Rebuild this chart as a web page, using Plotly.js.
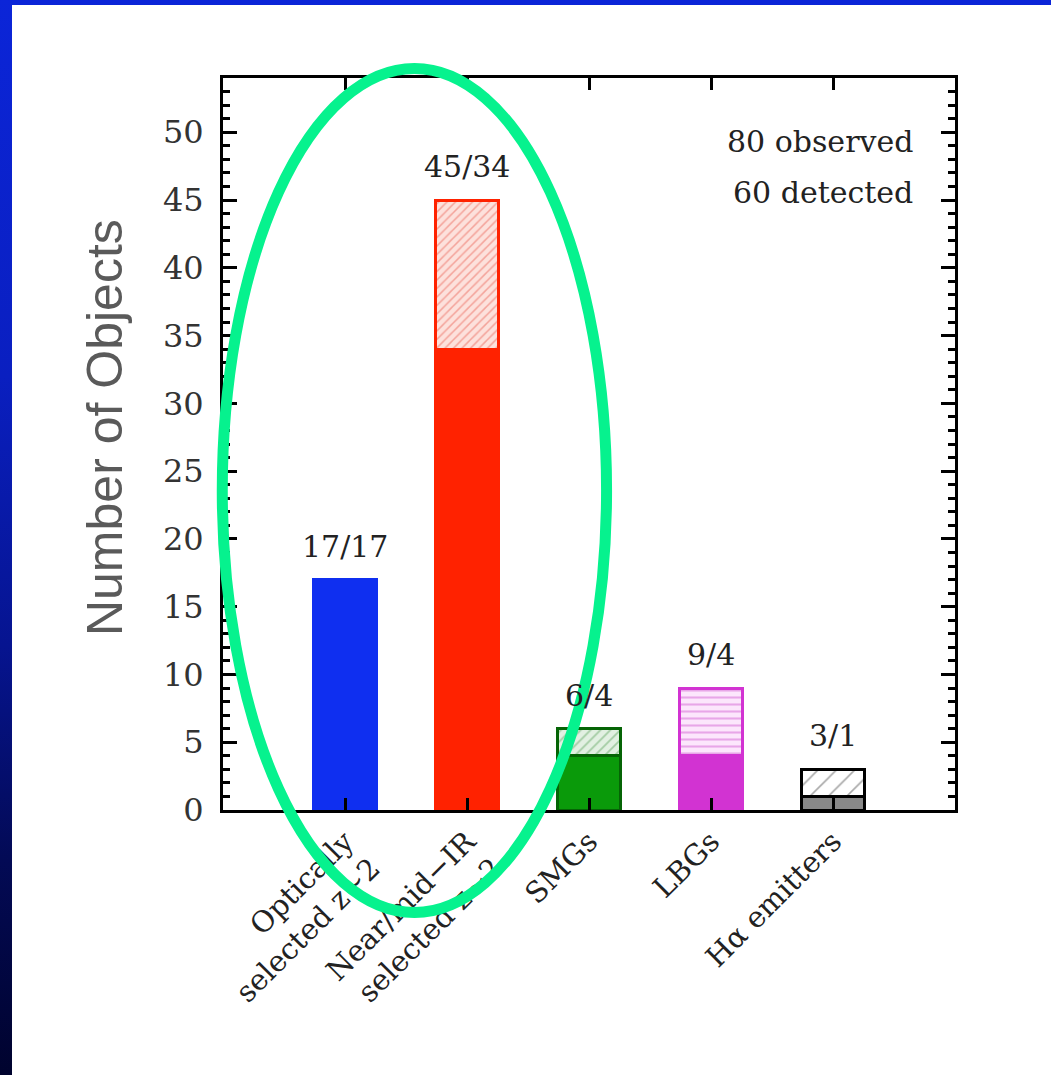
<!DOCTYPE html>
<html>
<head>
<meta charset="utf-8">
<script src="https://cdn.plot.ly/plotly-3.0.1.min.js"></script>
<style>
  html, body { margin:0; padding:0; }
  body {
    width:1051px; height:1075px; overflow:hidden; position:relative;
    background: linear-gradient(to bottom, #0b25d8 0%, #0a1fc0 35%, #061490 60%, #030a55 80%, #00032e 100%);
  }
  #frame { position:absolute; left:12px; top:5px; width:1039px; height:1070px; background:#ffffff; }
  #chart { width:1039px; height:1070px; }
</style>
</head>
<body>
<div id="frame"><div id="chart"></div></div>
<script>
// ---- data ----
const categories = ["Optically<br>selected z~2", "Near/mid\u2212IR<br>selected z~2", "SMGs", "LBGs", "H\u03b1 emitters"];
const observed = [17, 45, 6, 9, 3];
const detected = [17, 34, 4, 4, 1];
const summaryLines = ["80 observed", "60 detected"];

// ---- styles ----
const solidColors = ["#0f2ff0", "#ff2200", "#0a9a0a", "#d233d2", "#888888"];
const borderColors = ["#0f2ff0", "#ff2200", "#056405", "#d233d2", "#000000"];
const hatchShape = ["", "/", "/", "-", "/"];
const hatchBg = ["#ffffff", "#fde1dc", "#e2f0e2", "#fce6fc", "#ffffff"];
const hatchFg = ["#ffffff", "#f4a39a", "#a3cca3", "#e8a6e8", "#a8a8a8"];
const hatchSize = [6, 6, 7, 7, 13];
const hatchSolidity = [0.25, 0.25, 0.25, 0.3, 0.12];

const extra = observed.map((o, i) => o - detected[i]);
const serif = "DejaVu Serif, serif";

const traceDetected = {
  type: "bar", x: categories, y: detected, width: 0.52,
  marker: { color: solidColors, line: { color: borderColors, width: 3 } },
  hoverinfo: "skip", showlegend: false
};
const extraTraces = categories.map((c, i) => ({
  type: "bar", x: [c], y: [extra[i]], width: 0.52,
  marker: {
    color: hatchBg[i],
    line: { color: borderColors[i], width: 3 },
    pattern: { shape: hatchShape[i], fgcolor: hatchFg[i], bgcolor: hatchBg[i], fgopacity: 1,
               size: hatchSize[i], solidity: hatchSolidity[i], fillmode: "replace" }
  },
  hoverinfo: "skip", showlegend: false
}));

const countAnnotations = categories.map((c, i) => ({
  x: c, y: observed[i], xref: "x", yref: "y",
  text: observed[i] + "/" + detected[i], showarrow: false,
  yanchor: "bottom", yshift: 14,
  font: { family: serif, size: 30, color: "#222" }
}));

const summaryAnnotations = summaryLines.map((t, i) => ({
  x: 0.945, y: 0.913 - i * 0.07, xref: "paper", yref: "paper",
  xanchor: "right", yanchor: "middle", text: t, showarrow: false,
  font: { family: serif, size: 30, color: "#222" }
}));

const titleAnnotation = {
  x: -0.161, y: 0.522, xref: "paper", yref: "paper", textangle: -90,
  text: "Number of Objects", showarrow: false, xanchor: "center", yanchor: "middle",
  font: { family: "Liberation Sans, Arial, sans-serif", size: 50, color: "#5a5a5a" }
};

const layout = {
  width: 1039, height: 1070,
  margin: { l: 211, r: 96, t: 73, b: 265 },
  paper_bgcolor: "#ffffff", plot_bgcolor: "#ffffff",
  barmode: "stack", bargap: 0.48,
  xaxis: {
    type: "category", range: [-1, 5], categoryorder: "array", categoryarray: categories,
    showline: true, linecolor: "#000", linewidth: 3, mirror: "ticks",
    ticks: "inside", ticklen: 12, tickwidth: 3, tickcolor: "#000",
    tickangle: -45, showgrid: false, zeroline: false,
    tickfont: { family: serif, size: 29, color: "#222" }
  },
  yaxis: {
    range: [0, 54], dtick: 5, tick0: 0,
    showline: true, linecolor: "#000", linewidth: 3, mirror: "ticks",
    ticks: "inside", ticklen: 14, tickwidth: 3, tickcolor: "#000",
    minor: { dtick: 1, ticks: "inside", ticklen: 7, tickwidth: 3, tickcolor: "#000" },
    showgrid: false, zeroline: false, ticklabelstandoff: 10,
    tickfont: { family: serif, size: 32, color: "#333" }
  },
  annotations: countAnnotations.concat(summaryAnnotations, [titleAnnotation]),
  shapes: [{
    type: "circle", xref: "paper", yref: "paper",
    x0: -0.001, x1: 0.524, y0: -0.140, y1: 1.013,
    line: { color: "#06f28e", width: 11 }, layer: "above"
  }]
};

Plotly.newPlot("chart", [traceDetected].concat(extraTraces), layout, { displayModeBar: false, staticPlot: true });
</script>
</body>
</html>
